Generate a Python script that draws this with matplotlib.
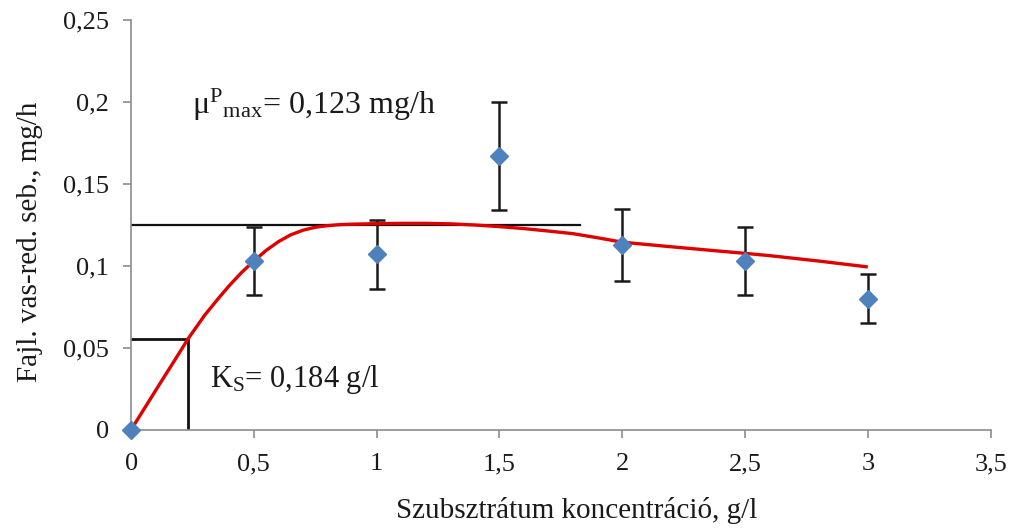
import matplotlib
matplotlib.use("Agg")
import matplotlib.pyplot as plt

# Measured specific iron-reduction rates
conc = [0, 0.5, 1.0, 1.5, 2.0, 2.5, 3.0]
rate = [0, 0.103, 0.107, 0.167, 0.113, 0.103, 0.080]
rate_err = [0, 0.021, 0.021, 0.033, 0.022, 0.021, 0.015]

# Fitted model curve
fit_x = [0, 0.1, 0.2, 0.231, 0.3, 0.36, 0.4, 0.45, 0.5, 0.55, 0.6, 0.65, 0.7,
         0.75, 0.8, 0.85, 0.9, 1.0, 1.1, 1.2, 1.3, 1.4, 1.5, 1.6, 1.7, 1.8,
         1.9, 2.0, 2.2, 2.4, 2.5, 2.6, 2.8, 3.0]
fit_y = [0, 0.0240, 0.0478, 0.0553, 0.0700, 0.0810, 0.0880, 0.0960, 0.1030,
         0.1095, 0.1148, 0.1190, 0.1218, 0.1236, 0.1246, 0.1252, 0.1255,
         0.1258, 0.1260, 0.1260, 0.1257, 0.1250, 0.1240, 0.1228, 0.1213,
         0.1197, 0.1172, 0.1145, 0.1117, 0.1090, 0.1077, 0.1063, 0.1030,
         0.0994]

# Reference lines
mu_level = 0.125
mu_end = 1.83
ks_x = 0.231
ks_y = 0.0553

x_ticks = [0, 0.5, 1, 1.5, 2, 2.5, 3, 3.5]
x_labels = ["0", "0,5", "1", "1,5", "2", "2,5", "3", "3,5"]
y_ticks = [0, 0.05, 0.1, 0.15, 0.2, 0.25]
y_labels = ["0", "0,05", "0,1", "0,15", "0,2", "0,25"]

plt.rcParams["font.family"] = ["Liberation Serif", "DejaVu Serif"]
plt.rcParams["mathtext.fontset"] = "custom"
plt.rcParams["mathtext.rm"] = "Liberation Serif"
plt.rcParams["mathtext.it"] = "Liberation Serif"
plt.rcParams["mathtext.bf"] = "Liberation Serif:bold"

fig = plt.figure(figsize=(10.16, 5.30), dpi=100)
ax = fig.add_axes([0.129, 0.189, 0.846, 0.773])

ax.plot([0, mu_end], [mu_level, mu_level], color="#111111", lw=1.6, zorder=2)
ax.plot([0, ks_x, ks_x], [ks_y, ks_y, 0], color="#111111", lw=2.0, zorder=2)

ax.errorbar(conc[1:], rate[1:], yerr=rate_err[1:], fmt="none", ecolor="#1a1a1a",
            elinewidth=1.8, capsize=6, capthick=1.8, zorder=3)
ax.plot(fit_x, fit_y, color="#e00000", lw=2.4, zorder=4,
        solid_joinstyle="round", solid_capstyle="butt")
ax.plot(conc, rate, linestyle="none", marker="D", markersize=9,
        color="#4f81bd", markeredgecolor="#4f81bd", zorder=5, clip_on=False)

ax.set_xlim(0, 3.5)
ax.set_ylim(0, 0.25)
ax.set_xticks(x_ticks)
ax.set_xticklabels(x_labels)
ax.set_yticks(y_ticks)
ax.set_yticklabels(y_labels)

for s in ["top", "right"]:
    ax.spines[s].set_visible(False)
for s in ["left", "bottom"]:
    ax.spines[s].set_color("#8c8c8c")
    ax.spines[s].set_linewidth(1.2)
ax.tick_params(axis="both", direction="out", length=6, width=1.2,
               color="#8c8c8c", labelsize=19, labelcolor="#1a1a1a")
ax.tick_params(axis="y", pad=10)
ax.tick_params(axis="x", pad=11)

ax.set_xlabel("Szubsztrátum koncentráció, g/l", fontsize=21, color="#1a1a1a")
ax.set_ylabel("Fajl. vas-red. seb., mg/h", fontsize=21, color="#1a1a1a")
ax.xaxis.set_label_coords(0.519, -0.165)
ax.yaxis.set_label_coords(-0.102, 0.46)

ax.text(0.25, 0.198, r"$\mathrm{\mu}^{\mathrm{P}}{}_{\mathrm{max}}$= 0,123 mg/h",
        fontsize=23, color="#1a1a1a", va="center", ha="left")
ax.text(0.32, 0.031, r"K$_{\mathrm{S}}$= 0,184 g/l",
        fontsize=22, color="#1a1a1a", va="center", ha="left")

fig.savefig("out.png", dpi=100)
